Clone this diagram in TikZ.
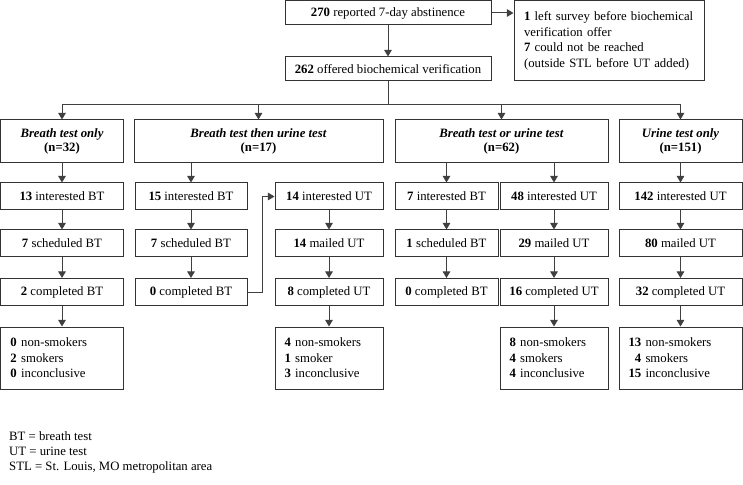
\documentclass[tikz,border=0pt]{standalone}
\usepackage{fontspec}
\setmainfont{Liberation Serif}
\usetikzlibrary{arrows.meta}

\begin{document}
\begin{tikzpicture}[x=1bp,y=-1bp,
                font=\fontsize{12.8}{15.5}\selectfont,
                box/.style={draw=black!80,line width=1bp,minimum height=27bp,inner sep=2bp,align=center},
                catbox/.style={box,minimum height=43bp,font=\fontsize{12.8}{14}\selectfont},
                resbox/.style={box,minimum height=62bp,inner xsep=9.5bp,align=left},
                arr/.style={draw=black!75,line width=1bp,-{Triangle[scale=1.2]}}]
                \useasboundingbox (0,0) rectangle (743,485);

                \node[box,minimum width=206bp,minimum height=24bp] (n270) at(388,13){\textbf{270} reported 7-day abstinence};
                \node[box,minimum width=206bp,minimum height=24bp] (n262) at(388,69){\textbf{262} offered biochemical verification};
                \node[box,minimum width=190bp,minimum height=80bp,inner xsep=10bp,text width=170bp,align=left] (excl) at(609,41)
                    {\textbf{1} left survey before biochemical verification offer\\\textbf{7} could not be reached\\(outside STL before UT added)\\[6bp]};

                \coordinate (split) at(388,105);

                \node[catbox,minimum width=122bp] (cat1) at(62,141.5){\textbf{\textit{Breath test only}}\\\textbf{(n=32)}};
                \node[catbox,minimum width=249bp] (cat2) at(258.5,141.5){\textbf{\textit{Breath test then urine test}}\\\textbf{(n=17)}};
                \node[catbox,minimum width=213bp] (cat3) at(501.5,141.5){\textbf{\textit{Breath test or urine test}}\\\textbf{(n=62)}};
                \node[catbox,minimum width=123bp] (cat4) at(680.5,141.5){\textbf{\textit{Urine test only}}\\\textbf{(n=151)}};

                \node[box,minimum width=122bp] (int1) at(62,196.5){\textbf{13} interested BT};
                \node[box,minimum width=112bp] (int2a) at(191,196.5){\textbf{15} interested BT};
                \node[box,minimum width=108bp] (int2b) at(329,196.5){\textbf{14} interested UT};
                \node[box,minimum width=103bp] (int3a) at(446.5,196.5){\textbf{7} interested BT};
                \node[box,minimum width=108bp] (int3b) at(554,196.5){\textbf{48} interested UT};
                \node[box,minimum width=123bp] (int4) at(680.5,196.5){\textbf{142} interested UT};

                \node[box,minimum width=122bp] (sch1) at(62,243.5){\textbf{7} scheduled BT};
                \node[box,minimum width=112bp] (sch2a) at(191,243.5){\textbf{7} scheduled BT};
                \node[box,minimum width=108bp] (mail2b) at(329,243.5){\textbf{14} mailed UT};
                \node[box,minimum width=103bp] (sch3a) at(446.5,243.5){\textbf{1} scheduled BT};
                \node[box,minimum width=108bp] (mail3b) at(554,243.5){\textbf{29} mailed UT};
                \node[box,minimum width=123bp] (mail4) at(680.5,243.5){\textbf{80} mailed UT};

                \node[box,minimum width=122bp] (comp1) at(62,292){\textbf{2} completed BT};
                \node[box,minimum width=112bp] (comp2a) at(191,292){\textbf{0} completed BT};
                \node[box,minimum width=108bp] (comp2b) at(329,292){\textbf{8} completed UT};
                \node[box,minimum width=103bp] (comp3a) at(446.5,292){\textbf{0} completed BT};
                \node[box,minimum width=108bp] (comp3b) at(554,292){\textbf{16} completed UT};
                \node[box,minimum width=123bp] (comp4) at(680.5,292){\textbf{32} completed UT};

                \node[resbox,text width=103bp] (res1) at(62,358){\textbf{0} non-smokers\\\textbf{2} smokers\\\textbf{0} inconclusive};
                \node[resbox,text width=89bp] (res2b) at(329,358){\textbf{4} non-smokers\\\textbf{1} smoker\\\textbf{3} inconclusive};
                \node[resbox,text width=89bp] (res3b) at(554,358){\textbf{8} non-smokers\\\textbf{4} smokers\\\textbf{4} inconclusive};
                \node[resbox,text width=104bp] (res4) at(680.5,358){\textbf{13} non-smokers\\\phantom{\textbf{1}}\textbf{4} smokers\\\textbf{15} inconclusive};

                \node[anchor=north west,align=left,inner sep=0pt] (legend) at(9,431){BT = breath test\\UT = urine test\\STL = St. Louis, MO metropolitan area};

                \draw[arr] (n270) -- (n262);
                \draw[arr] (n270.east) -- (n270.east -| excl.west);

                \draw[arr] (n262) -- (split) -| (cat1);
                \draw[arr] (split) -| (cat2);
                \draw[arr] (split) -| (cat3);
                \draw[arr] (split) -| (cat4);

                \draw[arr] (cat1) -- (int1);
                \draw[arr] (cat2.south -| int2a) -- (int2a);
                \draw[arr] (cat3.south -| int3a) -- (int3a);
                \draw[arr] (cat3.south -| int3b) -- (int3b);
                \draw[arr] (cat4) -- (int4);

                \draw[arr] (int1) -- (sch1);
                \draw[arr] (int2a) -- (sch2a);
                \draw[arr] (int2b) -- (mail2b);
                \draw[arr] (int3a) -- (sch3a);
                \draw[arr] (int3b) -- (mail3b);
                \draw[arr] (int4) -- (mail4);

                \draw[arr] (sch1) -- (comp1);
                \draw[arr] (sch2a) -- (comp2a);
                \draw[arr] (mail2b) -- (comp2b);
                \draw[arr] (sch3a) -- (comp3a);
                \draw[arr] (mail3b) -- (comp3b);
                \draw[arr] (mail4) -- (comp4);

                \draw[arr] (comp2a.east) -- ++(15,0) |- (int2b.west);

                \draw[arr] (comp1) -- (res1);
                \draw[arr] (comp2b) -- (res2b);
                \draw[arr] (comp3b) -- (res3b);
                \draw[arr] (comp4) -- (res4);
            \end{tikzpicture}
\end{document}
